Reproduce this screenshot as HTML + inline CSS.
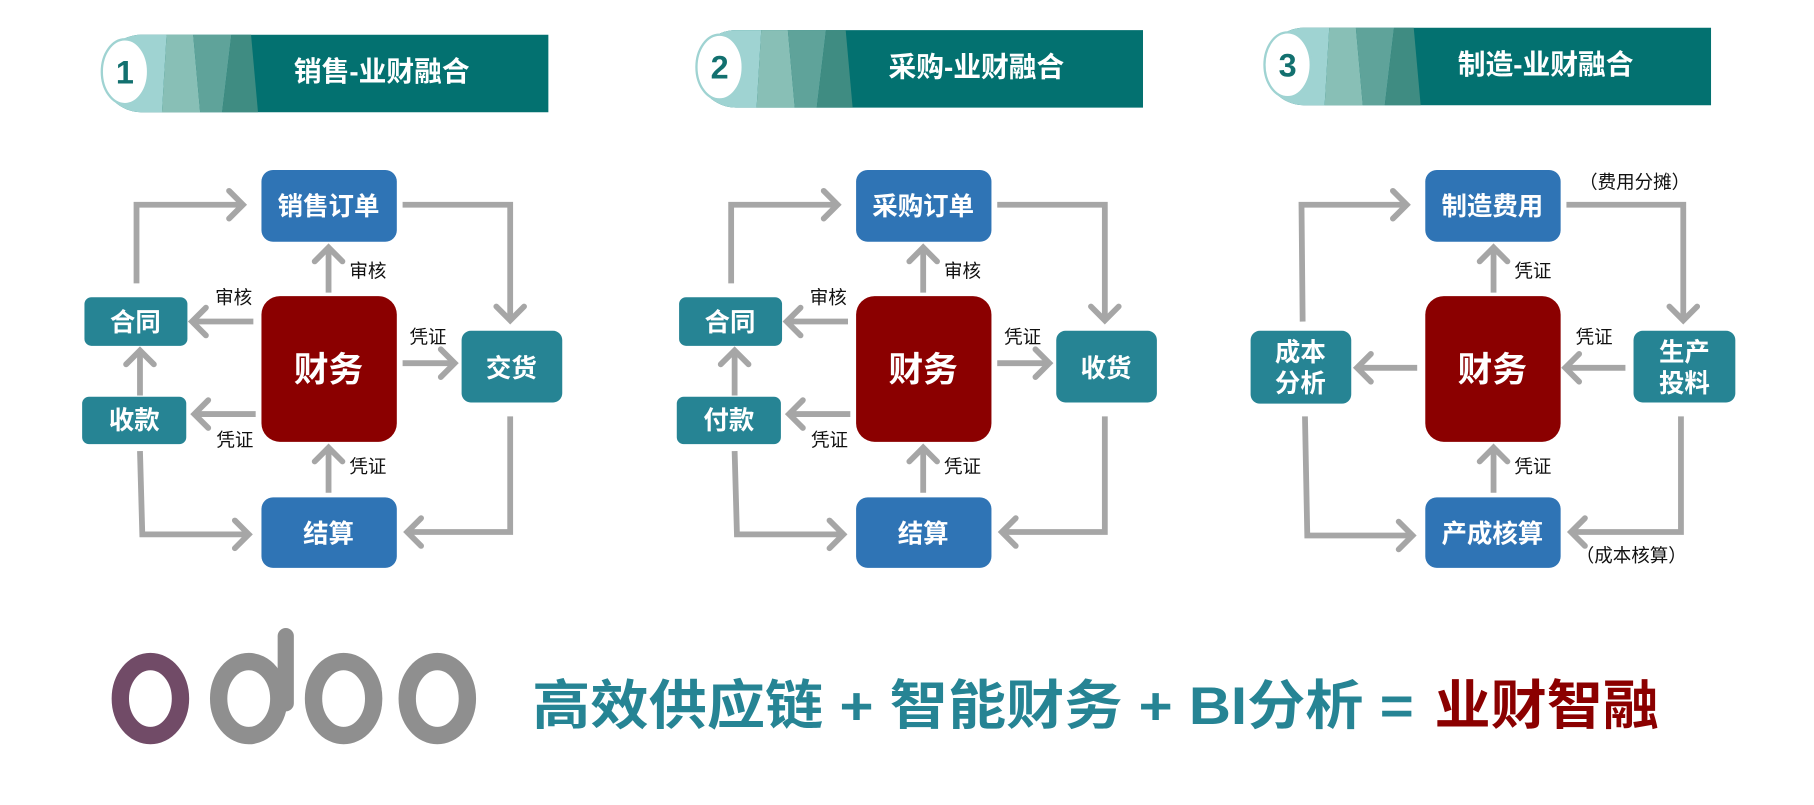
<!DOCTYPE html>
<html><head><meta charset="utf-8"><style>
html,body{margin:0;padding:0;background:#fff;}
svg{display:block;}
text{font-family:"Liberation Sans","Noto Sans CJK SC",sans-serif;}
.bt{fill:#fff;font-weight:bold;font-size:22px;text-anchor:middle;}
.lb{fill:#111;font-size:16px;text-anchor:middle;}
.ln{fill:none;stroke:#a6a6a6;stroke-width:5;}
</style></head><body>
<svg width="1814" height="805" viewBox="0 0 1568 696" preserveAspectRatio="none" xmlns="http://www.w3.org/2000/svg">
<defs>
<marker id="ah" markerUnits="userSpaceOnUse" markerWidth="30" markerHeight="30" refX="20" refY="15" orient="auto">
<path d="M8,3 L20,15 L8,27" fill="none" stroke="#a6a6a6" stroke-width="5" stroke-linecap="round"/>
</marker>
<g id="hdr">
<path d="M35,0 H387 V67 H35 A33,33 0 0 1 35,0 Z" fill="#037170"/>
<path d="M35,0 H57 L53,67 H35 A33,33 0 0 1 35,0 Z" fill="#9fd3d2"/>
<polygon points="57,0 80,0 86,67 53,67" fill="#88bfb6"/>
<polygon points="80,0 113,0 105,67 86,67" fill="#5fa39a"/>
<polygon points="113,0 130,0 136,67 105,67" fill="#3f8c82"/>
<ellipse cx="21" cy="32" rx="20" ry="28" fill="#fff" stroke="#9fd3d2" stroke-width="2"/>
</g>
</defs>

<use href="#hdr" x="87" y="30"/>
<text x="108" y="72" style="font-size:28px;font-weight:bold;fill:#12706f;text-anchor:middle">1</text>
<text x="330" y="70" style="font-size:24px;font-weight:bold;fill:#fff;text-anchor:middle">销售-业财融合</text>
<use href="#hdr" x="601" y="26"/>
<text x="622" y="68" style="font-size:28px;font-weight:bold;fill:#12706f;text-anchor:middle">2</text>
<text x="844" y="66" style="font-size:24px;font-weight:bold;fill:#fff;text-anchor:middle">采购-业财融合</text>
<use href="#hdr" x="1092" y="24"/>
<text x="1113" y="66" style="font-size:28px;font-weight:bold;fill:#12706f;text-anchor:middle">3</text>
<text x="1336" y="64" style="font-size:24px;font-weight:bold;fill:#fff;text-anchor:middle">制造-业财融合</text>

<g id="d1">
<polyline class="ln" points="118,245 118,177 210,177" marker-end="url(#ah)"/>
<polyline class="ln" points="348,177 441,177 441,277" marker-end="url(#ah)"/>
<polyline class="ln" points="441,360 441,460 352,460" marker-end="url(#ah)"/>
<polyline class="ln" points="121,390 123,462 215,462" marker-end="url(#ah)"/>
<line class="ln" x1="121" y1="342" x2="121" y2="303" marker-end="url(#ah)"/>
<line class="ln" x1="219" y1="278" x2="166" y2="278" marker-end="url(#ah)"/>
<line class="ln" x1="221" y1="358" x2="168" y2="358" marker-end="url(#ah)"/>
<line class="ln" x1="284" y1="253" x2="284" y2="214" marker-end="url(#ah)"/>
<line class="ln" x1="284" y1="426" x2="284" y2="387" marker-end="url(#ah)"/>
<line class="ln" x1="348" y1="314" x2="393" y2="314" marker-end="url(#ah)"/>
<rect x="226" y="147" width="117" height="62" rx="10" fill="#2f74b5"/>
<rect x="226" y="256" width="117" height="126" rx="16" fill="#8b0000"/>
<rect x="73" y="257" width="89" height="42" rx="6" fill="#268494"/>
<rect x="71" y="343" width="90" height="41" rx="6" fill="#268494"/>
<rect x="399" y="286" width="87" height="62" rx="8" fill="#268494"/>
<rect x="226" y="430" width="117" height="61" rx="10" fill="#2f74b5"/>
<text class="bt" x="284" y="330" style="font-size:30px">财务</text>
<text class="bt" x="117" y="286">合同</text>
<text class="bt" x="284" y="469">结算</text>
<text class="lb" x="202" y="263">审核</text>
<text class="lb" x="203" y="386">凭证</text>
<text class="lb" x="318" y="240">审核</text>
<text class="lb" x="318" y="409">凭证</text>
<text class="lb" x="370" y="297">凭证</text>
</g>
<text class="bt" x="284" y="186">销售订单</text>
<text class="bt" x="116" y="371">收款</text>
<text class="bt" x="442" y="326">交货</text>

<use href="#d1" x="514" y="0"/>
<text class="bt" x="798" y="186">采购订单</text>
<text class="bt" x="630" y="371">付款</text>
<text class="bt" x="956" y="326">收货</text>

<polyline class="ln" points="1126,278 1125,177 1216,177" marker-end="url(#ah)"/>
<polyline class="ln" points="1354,177 1455,177 1455,277" marker-end="url(#ah)"/>
<polyline class="ln" points="1453,360 1453,460 1358,460" marker-end="url(#ah)"/>
<polyline class="ln" points="1128,360 1130,463 1221,463" marker-end="url(#ah)"/>
<line class="ln" x1="1225" y1="318" x2="1173" y2="318" marker-end="url(#ah)"/>
<line class="ln" x1="1405" y1="318" x2="1353" y2="318" marker-end="url(#ah)"/>
<line class="ln" x1="1291" y1="253" x2="1291" y2="214" marker-end="url(#ah)"/>
<line class="ln" x1="1291" y1="426" x2="1291" y2="387" marker-end="url(#ah)"/>
<rect x="1232" y="147" width="117" height="62" rx="10" fill="#2f74b5"/>
<rect x="1232" y="256" width="117" height="126" rx="16" fill="#8b0000"/>
<rect x="1081" y="286" width="87" height="63" rx="8" fill="#268494"/>
<rect x="1412" y="286" width="88" height="62" rx="8" fill="#268494"/>
<rect x="1232" y="430" width="117" height="61" rx="10" fill="#2f74b5"/>
<text class="bt" x="1290" y="186">制造费用</text>
<text class="bt" x="1290" y="330" style="font-size:30px">财务</text>
<text class="bt" x="1124" y="312">成本</text>
<text class="bt" x="1124" y="339">分析</text>
<text class="bt" x="1456" y="312">生产</text>
<text class="bt" x="1456" y="339">投料</text>
<text class="bt" x="1290" y="469">产成核算</text>
<text class="lb" x="1325" y="240">凭证</text>
<text class="lb" x="1325" y="409">凭证</text>
<text class="lb" x="1378" y="297">凭证</text>
<text class="lb" x="1413" y="163">（费用分摊）</text>
<text class="lb" x="1410" y="486">（成本核算）</text>

<g fill="none" stroke-width="15">
<ellipse cx="130" cy="604" rx="26" ry="32" stroke="#714b67"/>
<ellipse cx="215" cy="604" rx="26" ry="32" stroke="#8f8f8f"/>
<ellipse cx="297" cy="604" rx="26" ry="32" stroke="#8f8f8f"/>
<ellipse cx="378" cy="604" rx="26" ry="32" stroke="#8f8f8f"/>
</g>
<line x1="247" y1="550" x2="247" y2="608" stroke="#8f8f8f" stroke-width="14" stroke-linecap="round"/>

<text x="460" y="626" style="font-size:46px;font-weight:bold;fill:#268494" textLength="762" lengthAdjust="spacingAndGlyphs">高效供应链 + 智能财务 + BI分析 =</text>
<text x="1240" y="626" style="font-size:46px;font-weight:bold;fill:#8b0000" textLength="194" lengthAdjust="spacingAndGlyphs">业财智融</text>
</svg>
</body></html>
